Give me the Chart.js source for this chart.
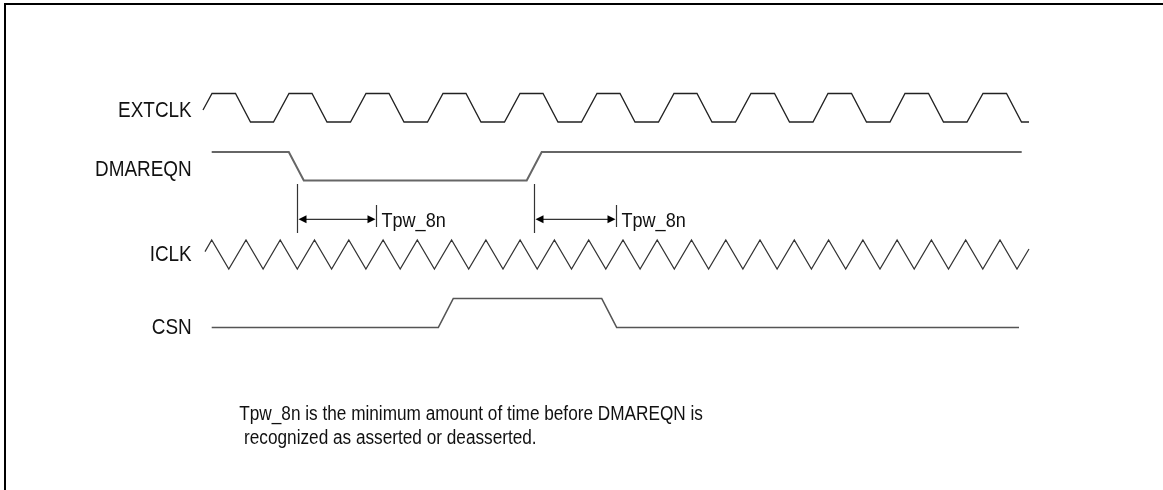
<!DOCTYPE html>
<html>
<head>
<meta charset="utf-8">
<script src="https://cdn.jsdelivr.net/npm/chart.js@4"></script>
<style>
  html, body { margin: 0; padding: 0; background: #fff; }
  #wrap { width: 1163px; height: 490px; }
</style>
</head>
<body>
<div id="wrap"><canvas id="c" width="1163" height="490"></canvas></div>
<script>
// ---------------- DATA (time units along x, logic level 0..1) ----------------
const signalNames = ["EXTCLK", "DMAREQN", "ICLK", "CSN"];

const extclkTime = [203, 212, 235.5, 250.5, 273.5, 289, 312, 327, 350.5, 366, 389, 404, 427.5, 443, 466, 481, 504.5,
  520, 543, 558, 581.5, 597, 620, 635, 658.5, 674, 697, 712, 735.5, 751, 774.5, 789.5, 813, 828, 851.5, 866.5, 890,
  905, 928.5, 943.5, 967, 983, 1006.5, 1021.5, 1029];
const extclkLevel = [0.42, 1, 1, 0, 0, 1, 1, 0, 0, 1, 1, 0, 0, 1, 1, 0, 0,
  1, 1, 0, 0, 1, 1, 0, 0, 1, 1, 0, 0, 1, 1, 0, 0, 1, 1, 0, 0,
  1, 1, 0, 0, 1, 1, 0, 0];

const dmareqnTime  = [211.7, 288.8, 303.8, 526.7, 541.7, 1021.7];
const dmareqnLevel = [1, 1, 0, 0, 1, 1];

const iclkTime = [205, 211.7, 228.8, 246, 263.1, 280.2, 297.3, 314.5, 331.6, 348.8, 365.9, 383.1, 400.2, 417.3,
  434.4, 451.6, 468.7, 485.9, 503, 520.1, 537.2, 554.4, 571.5, 588.7, 605.8, 623, 640.1, 657.2, 674.3, 691.5,
  708.6, 725.8, 742.9, 760, 777.1, 794.3, 811.4, 828.6, 845.7, 862.9, 880, 897.1, 914.2, 931.4, 948.5, 965.7,
  982.8, 1000, 1017, 1029];
const iclkLevel = [0.6, 1, 0, 1, 0, 1, 0, 1, 0, 1, 0, 1, 0, 1,
  0, 1, 0, 1, 0, 1, 0, 1, 0, 1, 0, 1, 0, 1, 0, 1,
  0, 1, 0, 1, 0, 1, 0, 1, 0, 1, 0, 1, 0, 1, 0, 1,
  0, 1, 0, 0.69];

const csnTime  = [211.7, 438.3, 453.3, 601.7, 616.7, 1019];
const csnLevel = [0, 0, 1, 1, 0, 0];

// Tpw_8n measurement markers (start / end times)
const tpwStart = [296.7, 534];
const tpwEnd   = [375.7, 616];
const tpwLabel = "Tpw_8n";

const noteLines = ["Tpw_8n is the minimum amount of time before DMAREQN is",
                   " recognized as asserted or deasserted."];

// ---------------- LAYOUT / STYLE ----------------
const lanes = {
  EXTCLK:  { low: 122,   high: 93.5,  labelBase: 116.5, color: "#222", width: 1.3 },
  DMAREQN: { low: 180.5, high: 152,   labelBase: 175.5, color: "#666", width: 2 },
  ICLK:    { low: 269,   high: 240,   labelBase: 261,   color: "#333", width: 1.2 },
  CSN:     { low: 327.5, high: 298.5, labelBase: 334,   color: "#555", width: 1.6 }
};
const signalData = {
  EXTCLK: [extclkTime, extclkLevel],
  DMAREQN: [dmareqnTime, dmareqnLevel],
  ICLK: [iclkTime, iclkLevel],
  CSN: [csnTime, csnLevel]
};
const labelRight = 191.7;
const FONT = "'Liberation Sans', Arial, sans-serif";
const SQUEEZE = 0.86;

const datasets = signalNames.map(name => {
  const ln = lanes[name];
  const [t, l] = signalData[name];
  return {
    label: name,
    data: t.map((x, i) => ({ x: x, y: ln.low + l[i] * (ln.high - ln.low) })),
    showLine: true,
    borderColor: ln.color,
    borderWidth: ln.width,
    pointRadius: 0,
    tension: 0,
    fill: false
  };
});

function squeezedText(ctx, text, x, y, size, align) {
  ctx.save();
  ctx.font = size + "px " + FONT;
  ctx.textBaseline = "alphabetic";
  const w = ctx.measureText(text).width * SQUEEZE;
  const left = align === "right" ? x - w : x;
  ctx.translate(left, y);
  ctx.scale(SQUEEZE, 1);
  ctx.textAlign = "left";
  ctx.fillText(text, 0, 0);
  ctx.restore();
}

const decor = {
  id: "decor",
  afterDatasetsDraw(chart) {
    const ctx = chart.ctx;
    const xs = chart.scales.x, ys = chart.scales.y;
    ctx.save();
    // frame (top and left)
    ctx.fillStyle = "#000";
    ctx.fillRect(4, 3, 1159, 2);
    ctx.fillRect(4, 3, 2, 487);

    // signal labels
    ctx.fillStyle = "#111";
    signalNames.forEach(n => {
      squeezedText(ctx, n, xs.getPixelForValue(labelRight), ys.getPixelForValue(lanes[n].labelBase), 22, "right");
    });

    // Tpw markers
    tpwStart.forEach((s, i) => {
      const x0 = Math.round(xs.getPixelForValue(s)) + 0.5;
      const x1 = Math.round(xs.getPixelForValue(tpwEnd[i])) + 0.5;
      const yA = ys.getPixelForValue(219.3);
      ctx.strokeStyle = "#333";
      ctx.lineWidth = 1.2;
      ctx.beginPath();
      ctx.moveTo(x0, ys.getPixelForValue(184)); ctx.lineTo(x0, ys.getPixelForValue(233));
      ctx.moveTo(x1, ys.getPixelForValue(205)); ctx.lineTo(x1, ys.getPixelForValue(227));
      ctx.moveTo(x0 + 6, yA); ctx.lineTo(x1 - 6, yA);
      ctx.stroke();
      ctx.fillStyle = "#000";
      ctx.beginPath();
      ctx.moveTo(x0 + 1, yA); ctx.lineTo(x0 + 9, yA - 4); ctx.lineTo(x0 + 9, yA + 4); ctx.closePath();
      ctx.fill();
      ctx.beginPath();
      ctx.moveTo(x1 - 1, yA); ctx.lineTo(x1 - 9, yA - 4); ctx.lineTo(x1 - 9, yA + 4); ctx.closePath();
      ctx.fill();
      ctx.fillStyle = "#111";
      squeezedText(ctx, tpwLabel, x1 + 5, ys.getPixelForValue(226.7), 21, "left");
    });

    // footnote
    ctx.fillStyle = "#111";
    squeezedText(ctx, noteLines[0], xs.getPixelForValue(239.3), ys.getPixelForValue(420), 20, "left");
    squeezedText(ctx, noteLines[1], xs.getPixelForValue(239.3), ys.getPixelForValue(443.5), 20, "left");
    ctx.restore();
  }
};

new Chart(document.getElementById("c"), {
  type: "scatter",
  data: { datasets },
  options: {
    responsive: false,
    animation: false,
    devicePixelRatio: 1,
    layout: { padding: 0 },
    plugins: { legend: { display: false }, tooltip: { enabled: false } },
    scales: {
      x: { type: "linear", min: 0, max: 1163, display: false },
      y: { type: "linear", min: 0, max: 490, reverse: true, display: false }
    },
    elements: { line: { borderJoinStyle: "miter" } }
  },
  plugins: [decor]
});
</script>
</body>
</html>
